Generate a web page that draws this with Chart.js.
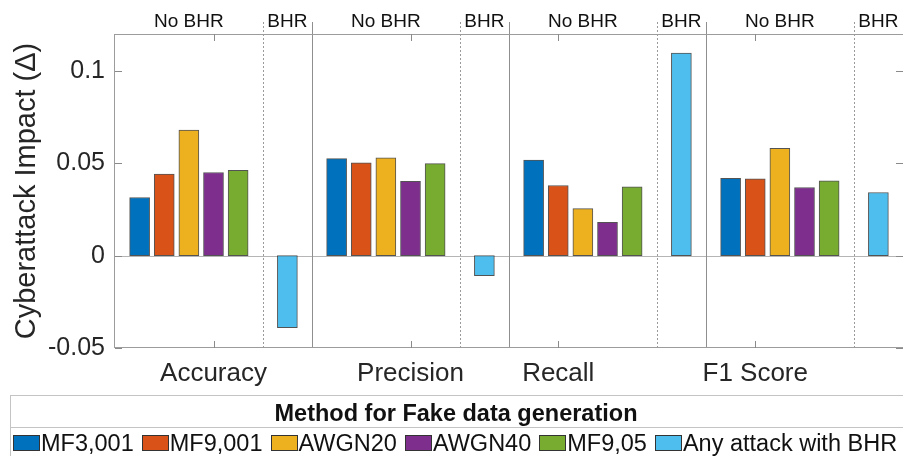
<!DOCTYPE html>
<html>
<head>
<meta charset="utf-8">
<script src="https://cdn.jsdelivr.net/npm/chart.js@4.4.0/dist/chart.umd.min.js"></script>
<style>
  html, body { margin: 0; padding: 0; background: #fff; }
  #wrap { position: relative; width: 903px; height: 456px; overflow: hidden; }
  #legend {
    position: absolute; left: 10px; top: 395px; width: 910px; height: 80px;
    border: 1px solid #c4c4c4; box-sizing: border-box;
    font-family: 'Liberation Sans', Arial, sans-serif; color: #111;
  }
  #legend .head {
    width: 890px; height: 31px; line-height: 34px; text-align: center;
    font-weight: bold; font-size: 23.5px;
  }
  #legend .sep { width: 100%; height: 0; border-top: 1px solid #c4c4c4; }
  #legend .row {
    display: flex; align-items: center; height: 30px; padding-left: 2px;
    white-space: nowrap; font-size: 23.5px;
  }
  #legend .sw { width: 25px; height: 14px; border: 1px solid #333; margin-right: 1px; flex: none; }
  #legend .txt { margin-right: 8px; }
</style>
</head>
<body>
<div id="wrap">
  <canvas id="chart" width="903" height="456"></canvas>
  <div id="legend"></div>
</div>
<script>
// values
const categories = ['Accuracy', 'Precision', 'Recall', 'F1 Score'];
const methods = ['MF3,001', 'MF9,001', 'AWGN20', 'AWGN40', 'MF9,05'];
const bhrLabel = 'Any attack with BHR';
const mf3_001 = [0.0315, 0.0525, 0.0518, 0.0419];
const mf9_001 = [0.0441, 0.0502, 0.0380, 0.0416];
const awgn20  = [0.0680, 0.0530, 0.0255, 0.0581];
const awgn40  = [0.0450, 0.0403, 0.0180, 0.0369];
const mf9_05  = [0.0462, 0.0498, 0.0372, 0.0405];
const bhr     = [-0.0390, -0.0108, 0.1097, 0.0342];
const yTicks = [-0.05, 0, 0.05, 0.1];
const yTickLabels = ['-0.05', '0', '0.05', '0.1'];
const xTickSlots = [4, 12, 18, 26];
const groupTags = ['No BHR', 'BHR'];

const colors = ['#0072BD', '#D95319', '#EDB120', '#7E2F8E', '#77AC30', '#4DBEEE'];
const FONT = "'Liberation Sans', Arial, sans-serif";
const SLOTS = 8; // 5 method bars, gap, dotted line, BHR bar

const series = [mf3_001, mf9_001, awgn20, awgn40, mf9_05];
const datasets = series.map((vals, i) => ({
    label: methods[i],
    data: vals.map((v, g) => ({ x: g * SLOTS + 1 + i, y: v })),
    backgroundColor: colors[i]
}));
datasets.push({
    label: bhrLabel,
    data: bhr.map((v, g) => ({ x: g * SLOTS + 7, y: v })),
    backgroundColor: colors[5]
});
datasets.forEach(d => {
    d.borderColor = 'rgba(40,40,40,0.8)';
    d.borderWidth = 1;
    d.borderSkipped = false;
    d.barThickness = 20;
    d.grouped = false;
});

// separators, box, ticks and the No BHR / BHR tags
const framePlugin = {
    id: 'frame',
    beforeDatasetsDraw(chart) {
        const { ctx, chartArea: a, scales: { x, y } } = chart;
        ctx.save();
        ctx.lineWidth = 1;
        // zero baseline
        const y0 = Math.round(y.getPixelForValue(0)) + 0.5;
        ctx.strokeStyle = '#b5b5b5';
        ctx.beginPath(); ctx.moveTo(a.left, y0); ctx.lineTo(a.right, y0); ctx.stroke();
        for (let g = 0; g < categories.length; g++) {
            if (g > 0) {
                const xs = Math.round(x.getPixelForValue(g * SLOTS)) + 0.5;
                ctx.strokeStyle = '#8f8f8f';
                ctx.setLineDash([]);
                ctx.beginPath(); ctx.moveTo(xs, a.top - 12); ctx.lineTo(xs, a.bottom); ctx.stroke();
            }
            const xd = Math.round(x.getPixelForValue(g * SLOTS + 6)) + 0.5;
            ctx.strokeStyle = '#9a9a9a';
            ctx.setLineDash([2, 2]);
            ctx.beginPath(); ctx.moveTo(xd, a.top - 12); ctx.lineTo(xd, a.bottom); ctx.stroke();
        }
        ctx.restore();
    },
    afterDatasetsDraw(chart) {
        const { ctx, chartArea: a, scales: { x, y } } = chart;
        ctx.save();
        ctx.lineWidth = 1;
        ctx.strokeStyle = '#9c9c9c';
        ctx.beginPath();
        ctx.moveTo(a.left, a.top + 0.5); ctx.lineTo(a.right, a.top + 0.5);
        ctx.moveTo(a.left, a.bottom - 0.5); ctx.lineTo(a.right, a.bottom - 0.5);
        ctx.moveTo(a.left - 0.5, a.top); ctx.lineTo(a.left - 0.5, a.bottom);
        ctx.stroke();
        // inner tick marks
        ctx.strokeStyle = '#8a8a8a';
        ctx.beginPath();
        yTicks.forEach(v => {
            const py = Math.round(y.getPixelForValue(v)) + 0.5;
            ctx.moveTo(a.left, py); ctx.lineTo(a.left + 7, py);
            ctx.moveTo(a.right, py); ctx.lineTo(a.right - 7, py);
        });
        xTickSlots.forEach(v => {
            const px = Math.round(x.getPixelForValue(v)) + 0.5;
            ctx.moveTo(px, a.top); ctx.lineTo(px, a.top + 7);
            ctx.moveTo(px, a.bottom); ctx.lineTo(px, a.bottom - 7);
        });
        ctx.stroke();
        // group tags above the plot
        ctx.fillStyle = '#111';
        ctx.font = '19px ' + FONT;
        ctx.textAlign = 'center';
        ctx.textBaseline = 'middle';
        for (let g = 0; g < categories.length; g++) {
            ctx.fillText(groupTags[0], x.getPixelForValue(g * SLOTS + 3), a.top - 12);
            ctx.fillText(groupTags[1], x.getPixelForValue(g * SLOTS + 7), a.top - 12);
        }
        ctx.restore();
    }
};

const chart = new Chart(document.getElementById('chart').getContext('2d'), {
    type: 'bar',
    data: { datasets },
    options: {
        responsive: false,
        animation: false,
        layout: { padding: { top: 34, left: 0, right: 0, bottom: 0 } },
        plugins: {
            legend: { display: false },
            tooltip: { enabled: false }
        },
        scales: {
            x: {
                type: 'linear',
                offset: false,
                min: 0,
                max: categories.length * SLOTS,
                grid: { display: false, drawTicks: false },
                border: { display: false },
                afterBuildTicks: s => { s.ticks = xTickSlots.map(v => ({ value: v })); },
                afterFit: s => { s.height = 108; s.paddingLeft = 0; s.paddingRight = 0; },
                ticks: {
                    autoSkip: false,
                    maxRotation: 0,
                    padding: 10,
                    color: '#262626',
                    font: { family: FONT, size: 26 },
                    callback: v => categories[xTickSlots.indexOf(v)]
                }
            },
            y: {
                min: -0.05,
                max: 0.12,
                grid: { display: false, drawTicks: false },
                border: { display: false },
                afterBuildTicks: s => { s.ticks = yTicks.map(v => ({ value: v })); },
                afterFit: s => { s.width = 115; },
                ticks: {
                    padding: 10,
                    color: '#262626',
                    font: { family: FONT, size: 25 },
                    callback: (v, i) => yTickLabels[i]
                },
                title: {
                    display: true,
                    text: 'Cyberattack Impact (\u0394)',
                    color: '#262626',
                    font: { family: FONT, size: 29 },
                    padding: { top: 10, bottom: 0 }
                }
            }
        }
    },
    plugins: [framePlugin]
});

// legend box built from the datasets
const legend = document.getElementById('legend');
legend.innerHTML = '<div class="head">Method for Fake data generation</div><div class="sep"></div>';
const row = document.createElement('div');
row.className = 'row';
chart.data.datasets.forEach(d => {
    const sw = document.createElement('span');
    sw.className = 'sw';
    sw.style.background = d.backgroundColor;
    const t = document.createElement('span');
    t.className = 'txt';
    t.textContent = d.label;
    row.appendChild(sw);
    row.appendChild(t);
});
legend.appendChild(row);
</script>
</body>
</html>
